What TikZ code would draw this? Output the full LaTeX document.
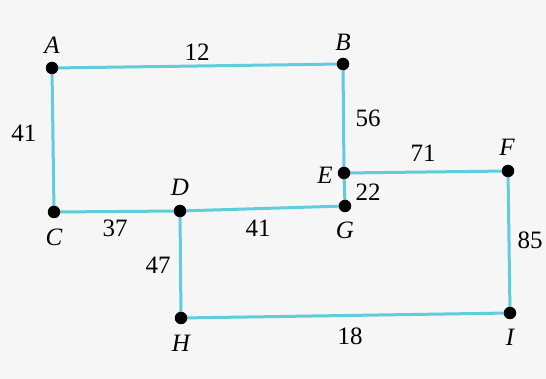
\documentclass[tikz,border=0pt]{standalone}
\usepackage{fontspec}
\setmainfont{Liberation Serif}
\definecolor{edgec}{RGB}{95,205,220}
\definecolor{bgc}{RGB}{246,246,246}
\begin{document}
\begin{tikzpicture}[x=1pt,y=-1pt,
  vtx/.style={circle,fill=black,inner sep=0pt,minimum size=12.5pt},
  edge/.style={draw=edgec,line width=3pt},
  lab/.style={font=\fontsize{25}{28}\selectfont\itshape,inner sep=0pt},
  num/.style={font=\fontsize{25}{28}\selectfont,inner sep=0pt}]
\fill[bgc] (0,0) rectangle (546,379);
\useasboundingbox (0,0) rectangle (546,379);
\coordinate (A) at (52,68);
\coordinate (B) at (343,64);
\coordinate (E) at (344,173);
\coordinate (F) at (508,171);
\coordinate (C) at (54,212);
\coordinate (D) at (180,211);
\coordinate (G) at (345,206);
\coordinate (H) at (181,318);
\coordinate (I) at (510,313);
\draw[edge] (A) -- (B);
\draw[edge] (A) -- (C);
\draw[edge] (B) -- (E);
\draw[edge] (E) -- (G);
\draw[edge] (E) -- (F);
\draw[edge] (F) -- (I);
\draw[edge] (C) -- (D);
\draw[edge] (D) -- (G);
\draw[edge] (D) -- (H);
\draw[edge] (H) -- (I);
\foreach \v in {A,B,C,D,E,F,G,H,I} \node[vtx] (n\v) at (\v) {};
\node[lab] (lA) at (52,45) {A};
\node[lab] (lB) at (343,42) {B};
\node[lab] (lC) at (54,237) {C};
\node[lab] (lD) at (180,187) {D};
\node[lab] (lE) at (325,175) {E};
\node[lab] (lF) at (507,147) {F};
\node[lab] (lG) at (345,230) {G};
\node[lab] (lH) at (181,343) {H};
\node[lab] (lI) at (510,337) {I};
\node[num] (w12) at (197,52) {12};
\node[num] (w41a) at (24,133) {41};
\node[num] (w56) at (368,118) {56};
\node[num] (w71) at (423,153) {71};
\node[num] (w22) at (368,192) {22};
\node[num] (w85) at (530,240) {85};
\node[num] (w37) at (115,228) {37};
\node[num] (w41b) at (258,228) {41};
\node[num] (w47) at (158,265) {47};
\node[num] (w18) at (350,336) {18};
\end{tikzpicture}
\end{document}
